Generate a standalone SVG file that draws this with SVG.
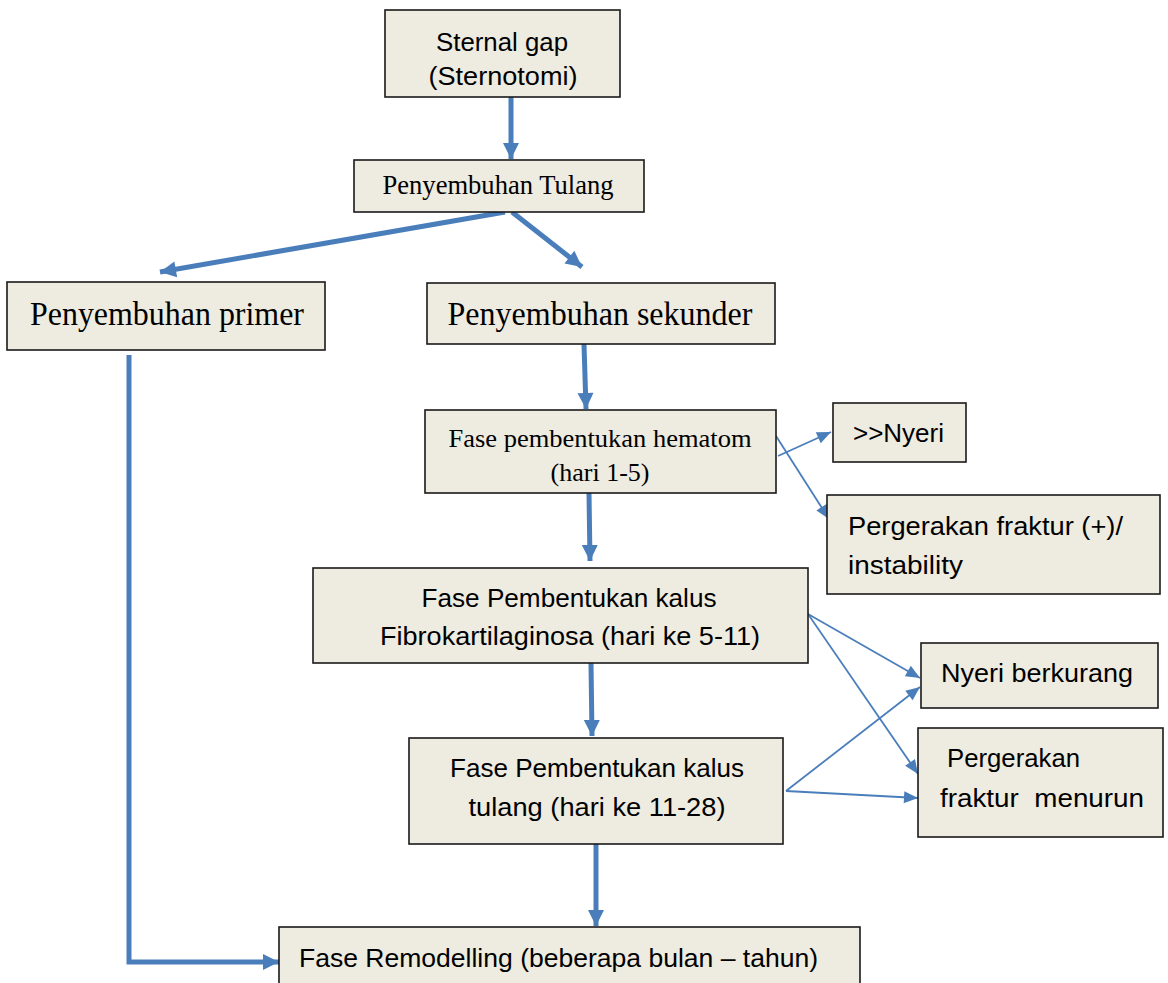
<svg xmlns="http://www.w3.org/2000/svg" width="1168" height="983" viewBox="0 0 1168 983">
<style>
.box{fill:#EEEBE0;stroke:#1a1a1a;stroke-width:1.6}
.sans{font-family:"Liberation Sans",Arial,sans-serif;fill:#000;font-size:26px}
.serif{font-family:"Liberation Serif","Times New Roman",serif;fill:#000}
.thick{stroke:#4A7EBB;stroke-width:5;fill:none}
.thin{stroke:#4A7EBB;stroke-width:1.8;fill:none}
</style>
<defs>
<marker id="ah" markerUnits="userSpaceOnUse" markerWidth="20" markerHeight="20" viewBox="0 0 20 20" refX="18" refY="10" orient="auto">
<path d="M2,2 L18,10 L2,18 Z" fill="#4A7EBB"/>
</marker>
<marker id="ahs" markerUnits="userSpaceOnUse" markerWidth="16" markerHeight="16" viewBox="0 0 16 16" refX="15" refY="8" orient="auto">
<path d="M1,2 L15,8 L1,14 Z" fill="#4A7EBB"/>
</marker>
</defs>
<rect width="1168" height="983" fill="#fff"/>
<g id="connectors">
<line class="thick" x1="511" y1="97" x2="511" y2="159" marker-end="url(#ah)"/>
<line class="thick" x1="505" y1="212" x2="160" y2="272" marker-end="url(#ah)"/>
<line class="thick" x1="512" y1="212" x2="582" y2="267" marker-end="url(#ah)"/>
<line class="thick" x1="584" y1="344" x2="586" y2="409" marker-end="url(#ah)"/>
<line class="thick" x1="589" y1="493" x2="590" y2="561" marker-end="url(#ah)"/>
<line class="thick" x1="591" y1="663" x2="592" y2="736" marker-end="url(#ah)"/>
<line class="thick" x1="596" y1="844" x2="596" y2="926" marker-end="url(#ah)"/>
<polyline class="thick" points="129,355 129,962 279,962" marker-end="url(#ah)"/>
<line class="thin" x1="778" y1="456" x2="831" y2="432" marker-end="url(#ahs)"/>
<line class="thin" x1="776" y1="436" x2="829" y2="519" marker-end="url(#ahs)"/>
<line class="thin" x1="808" y1="614" x2="920" y2="678" marker-end="url(#ahs)"/>
<line class="thin" x1="808" y1="614" x2="918" y2="774" marker-end="url(#ahs)"/>
<line class="thin" x1="786" y1="791" x2="920" y2="687" marker-end="url(#ahs)"/>
<line class="thin" x1="786" y1="791" x2="918" y2="798" marker-end="url(#ahs)"/>
</g>
<g id="sternal">
<rect class="box" x="385" y="10" width="235" height="87"/>
<text class="sans" x="502" y="51" text-anchor="middle" textLength="132" lengthAdjust="spacingAndGlyphs">Sternal gap</text>
<text class="sans" x="503" y="85" text-anchor="middle" textLength="149" lengthAdjust="spacingAndGlyphs">(Sternotomi)</text>
</g>
<g id="tulang">
<rect class="box" x="354" y="160" width="290" height="52"/>
<text class="serif" x="498" y="194" font-size="27" text-anchor="middle" textLength="231" lengthAdjust="spacingAndGlyphs">Penyembuhan Tulang</text>
</g>
<g id="primer">
<rect class="box" x="7" y="282" width="318" height="68"/>
<text class="serif" x="167" y="325" font-size="34" text-anchor="middle" textLength="274" lengthAdjust="spacingAndGlyphs">Penyembuhan primer</text>
</g>
<g id="sekunder">
<rect class="box" x="427" y="283" width="348" height="61"/>
<text class="serif" x="600" y="325" font-size="34" text-anchor="middle" textLength="305" lengthAdjust="spacingAndGlyphs">Penyembuhan sekunder</text>
</g>
<g id="hematom">
<rect class="box" x="425" y="410" width="351" height="83"/>
<text class="serif" x="600" y="447" font-size="26" text-anchor="middle" textLength="303" lengthAdjust="spacingAndGlyphs">Fase pembentukan hematom</text>
<text class="serif" x="600" y="481" font-size="26" text-anchor="middle">(hari 1-5)</text>
</g>
<g id="nyeri">
<rect class="box" x="833" y="403" width="133" height="59"/>
<text class="sans" x="853" y="442" textLength="91" lengthAdjust="spacingAndGlyphs">&gt;&gt;Nyeri</text>
</g>
<g id="pergerakan1">
<rect class="box" x="827" y="495" width="333" height="99"/>
<text class="sans" x="848" y="535" textLength="275" lengthAdjust="spacingAndGlyphs">Pergerakan fraktur (+)/</text>
<text class="sans" x="848" y="574" textLength="115" lengthAdjust="spacingAndGlyphs">instability</text>
</g>
<g id="fibro">
<rect class="box" x="313" y="568" width="495" height="95"/>
<text class="sans" x="569" y="607" text-anchor="middle" textLength="295" lengthAdjust="spacingAndGlyphs">Fase Pembentukan kalus</text>
<text class="sans" x="570" y="645" text-anchor="middle" textLength="380" lengthAdjust="spacingAndGlyphs">Fibrokartilaginosa (hari ke 5-11)</text>
</g>
<g id="berkurang">
<rect class="box" x="921" y="643" width="237" height="65"/>
<text class="sans" x="941" y="682" textLength="192" lengthAdjust="spacingAndGlyphs">Nyeri berkurang</text>
</g>
<g id="kalus">
<rect class="box" x="409" y="738" width="374" height="106"/>
<text class="sans" x="597" y="777" text-anchor="middle" textLength="294" lengthAdjust="spacingAndGlyphs">Fase Pembentukan kalus</text>
<text class="sans" x="597" y="816" text-anchor="middle" textLength="257" lengthAdjust="spacingAndGlyphs">tulang (hari ke 11-28)</text>
</g>
<g id="menurun">
<rect class="box" x="918" y="728" width="245" height="109"/>
<text class="sans" x="947" y="767" textLength="133" lengthAdjust="spacingAndGlyphs">Pergerakan</text>
<text class="sans" x="940" y="807" textLength="204" lengthAdjust="spacingAndGlyphs" style="white-space:pre">fraktur  menurun</text>
</g>
<g id="remodelling">
<rect class="box" x="279" y="927" width="581" height="70"/>
<text class="sans" x="299" y="967" textLength="519" lengthAdjust="spacingAndGlyphs">Fase Remodelling (beberapa bulan – tahun)</text>
</g>
</svg>
